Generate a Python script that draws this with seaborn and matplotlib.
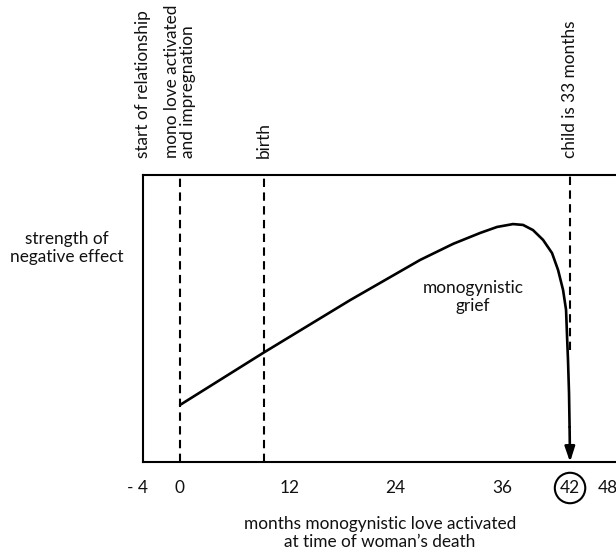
import numpy as np
import pandas as pd
import matplotlib
matplotlib.use("Agg")
import matplotlib.pyplot as plt
import seaborn as sns
from matplotlib.transforms import blended_transform_factory

# ---------------- data ----------------
grief_months = [0.0, 8.94, 18.31, 25.85, 29.40, 32.31, 34.14, 35.86, 36.94,
                38.01, 39.09, 40.06, 40.71, 41.25, 41.57, 41.68, 41.78, 41.89, 41.95]
grief_strength = [19.9, 38.0, 56.4, 70.4, 76.0, 79.8, 81.9, 82.9, 82.6,
                  80.8, 77.4, 72.8, 66.9, 59.9, 53.0, 43.6, 35.5, 24.0, 12.2]
death_month = 42

event_months = [0, 9, 42]
event_top = [100, 100, 100]
event_bottom = [0, 0, 39]

top_labels = ["start of relationship", "mono love activated\nand impregnation",
              "birth", "child is 33 months"]
top_label_months = [-4, 0, 9, 42]

tick_labels = ["- 4", "0", "12", "24", "36", "42", "48"]
tick_label_x = [-4.63, -0.11, 11.74, 23.16, 34.68, 42, 46.1]   # layout positions

# ---------------- figure ----------------
sns.set_theme(style="white")
plt.rcParams['font.family'] = ['Lato', 'DejaVu Sans']
FS = 12.4

W, H = 616, 554
fig = plt.figure(figsize=(W / 100, H / 100), dpi=100)
ax = fig.add_axes([143 / W, 1 - 462 / H, 1 - 143 / W, (462 - 175) / H])
ax.set_facecolor("white")
ax.set_xlim(-4, 46.95)
ax.set_ylim(0, 100)

df = pd.DataFrame({"month": grief_months, "strength": grief_strength})
sns.lineplot(data=df, x="month", y="strength", ax=ax, color="black",
             linewidth=1.9, sort=False, estimator=None)
ax.lines[-1].set_solid_joinstyle("round")

# arrow to death
ax.annotate("", xy=(death_month, 0), xytext=(grief_months[-1], grief_strength[-1]),
            arrowprops=dict(arrowstyle="-|>,head_length=0.75,head_width=0.25",
                            color="black", lw=1.9, shrinkA=0, shrinkB=0))

# dashed event lines
ax.vlines(event_months, event_bottom, event_top, colors="black",
          linestyles=(0, (4, 2.6)), linewidth=1.5)

for s in ["left", "top", "bottom"]:
    ax.spines[s].set_color("black")
    ax.spines[s].set_linewidth(1.5)
ax.spines["right"].set_visible(False)
ax.set_xticks([])
ax.set_yticks([])
ax.set_xlabel("")
ax.set_ylabel("")

# vertical event labels above the plot
trans_top = blended_transform_factory(ax.transData, fig.transFigure)
for lab, m in zip(top_labels, top_label_months):
    ax.text(m, 1 - 158 / H, lab, transform=trans_top, rotation=90,
            ha="center", va="bottom", multialignment="left",
            fontsize=FS, color="#111111", clip_on=False, linespacing=1.0)

# x tick labels
for lab, xpos in zip(tick_labels, tick_label_x):
    kw = {}
    if lab == "42":
        kw["bbox"] = dict(boxstyle="circle,pad=0.3", fc="none", ec="black", lw=1.5)
    ax.text(xpos, 1 - 488 / H, lab, transform=trans_top, ha="center", va="center",
            fontsize=FS, color="#111111", clip_on=False, **kw)

# annotation inside
ax.text(31.55, 57.5, "monogynistic\ngrief", ha="center", va="center",
        fontsize=FS, color="#111111", linespacing=1.15)

# y label
fig.text(67 / W, 1 - 248 / H, "strength of\nnegative effect", ha="center",
         va="center", fontsize=FS, color="#111111", linespacing=1.15)

# x label
fig.text(380 / W, 1 - 533 / H, "months monogynistic love activated\nat time of woman\u2019s death",
         ha="center", va="center", fontsize=FS, color="#111111", linespacing=1.15)

fig.savefig("out.png", dpi=100, facecolor="white")
